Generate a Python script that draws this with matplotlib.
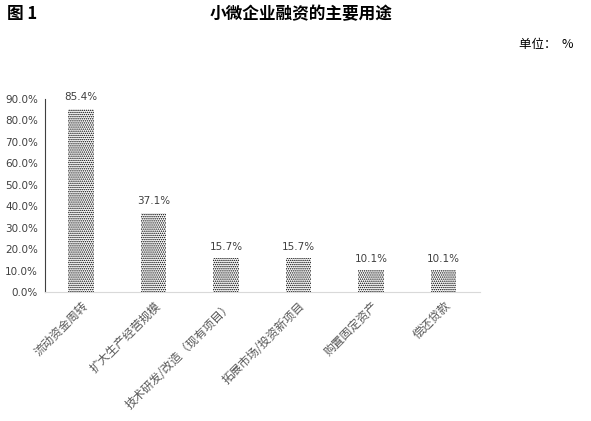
import matplotlib.pyplot as plt

plt.rcParams['font.family'] = ['Noto Sans CJK SC', 'DejaVu Sans']
plt.rcParams['hatch.linewidth'] = 0.7

categories = ['流动资金周转', '扩大生产经营规模', '技术研发/改造（现有项目）',
              '拓展市场/投资新项目', '购置固定资产', '偿还贷款']
values = [85.4, 37.1, 15.7, 15.7, 10.1, 10.1]
yticks = [0, 10, 20, 30, 40, 50, 60, 70, 80, 90]

fig = plt.figure(figsize=(5.91, 4.21), dpi=100)
ax = fig.add_axes([0.076, 0.306, 0.736, 0.459])

x = range(len(categories))
ax.bar(x, values, width=0.35, color='white', edgecolor='black',
       hatch='........', linewidth=0)
for xi, v in zip(x, values):
    ax.text(xi, v + 3, f'{v:.1f}%', ha='center', va='bottom', fontsize=7.5,
            color='#404040', family='DejaVu Sans')

ax.set_ylim(0, 90)
ax.set_xlim(-0.5, len(categories) - 0.5)
ax.set_yticks(yticks)
ax.set_yticklabels([f'{t:.1f}%' for t in yticks], fontsize=7.5, color='#404040',
                   family='DejaVu Sans')
ax.set_xticks(list(x))
ax.set_xticklabels(categories, rotation=45, ha='right', rotation_mode='anchor',
                   fontsize=8.5, color='#595959')
ax.tick_params(length=0, pad=5)
for s in ['top', 'right']:
    ax.spines[s].set_visible(False)
ax.spines['left'].set_color('#404040')
ax.spines['bottom'].set_color('#d9d9d9')

fig.text(0.012, 0.955, '图 1', fontsize=12, fontweight='bold')
fig.text(0.51, 0.955, '小微企业融资的主要用途', fontsize=12, fontweight='bold', ha='center')
fig.text(0.97, 0.885, '单位：  %', fontsize=9, ha='right')

fig.savefig('out.png', dpi=100)
